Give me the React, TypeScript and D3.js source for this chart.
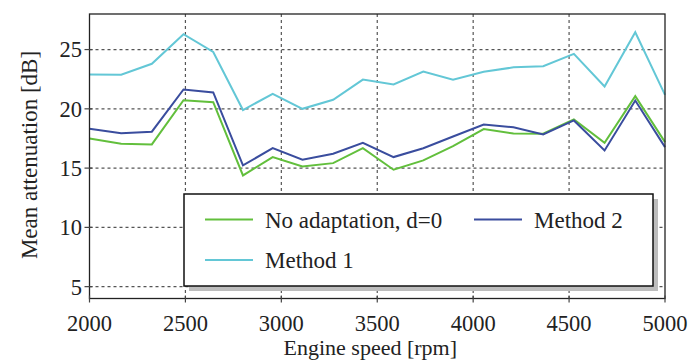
import React from 'react';
import * as d3 from 'd3';

// engine speed samples [rpm]
const speeds = [2000, 2165, 2325, 2490, 2645, 2800, 2955, 3110, 3270, 3425, 3585, 3740, 3895, 4055, 4210, 4365, 4525, 4685, 4845, 5000];

const noAdaptation = [17.5, 17.06, 17.0, 20.73, 20.56, 14.38, 15.93, 15.14, 15.42, 16.68, 14.86, 15.65, 16.85, 18.29, 17.92, 17.9, 19.1, 17.14, 21.07, 17.19];
const method1 = [22.9, 22.87, 23.8, 26.3, 24.8, 19.9, 21.27, 20.0, 20.76, 22.47, 22.05, 23.15, 22.45, 23.12, 23.5, 23.6, 24.64, 21.88, 26.46, 21.18];
const method2 = [18.32, 17.95, 18.07, 21.63, 21.38, 15.23, 16.68, 15.71, 16.21, 17.14, 15.93, 16.68, 17.67, 18.68, 18.45, 17.84, 19.02, 16.49, 20.7, 16.77];

const xTicks = [2000, 2500, 3000, 3500, 4000, 4500, 5000];
const yTicks = [5, 10, 15, 20, 25];

const series = [
  { name: 'No adaptation, d=0', values: noAdaptation, color: '#62bf3c' },
  { name: 'Method 1', values: method1, color: '#63c7d6' },
  { name: 'Method 2', values: method2, color: '#3a4d9e' },
];

const W = 691;
const H = 362;
const plot = { left: 89.5, right: 665, top: 14, bottom: 298.5 };
const font = '"Liberation Serif", "Times New Roman", serif';

export default function App() {
  const x = d3.scaleLinear().domain([2000, 5000]).range([plot.left, plot.right]);
  const y = d3.scaleLinear().domain([4, 28]).range([plot.bottom, plot.top]);

  const line = d3.line<number>()
    .x((d, i) => x(speeds[i]))
    .y(d => y(d));

  // legend layout
  const lg = { x: 184, y: 194, w: 469, h: 92 };
  const legendItems = [
    { s: series[0], lx: 205, ly: 219.5 },
    { s: series[2], lx: 474, ly: 219.5 },
    { s: series[1], lx: 205, ly: 260 },
  ];

  return (
    <svg width={W} height={H} style={{ position: 'absolute', left: 0, top: 0 }} fontFamily={font}>
      <rect width={W} height={H} fill="#fff" />

      {/* grid */}
      {xTicks.slice(1, -1).map(t => (
        <line key={'gx' + t} x1={x(t)} x2={x(t)} y1={plot.top} y2={plot.bottom}
          stroke="#555" strokeWidth={1.2} strokeDasharray="3,3" />
      ))}
      {yTicks.map(t => (
        <line key={'gy' + t} x1={plot.left} x2={plot.right} y1={y(t)} y2={y(t)}
          stroke="#555" strokeWidth={1.2} strokeDasharray="3,3" />
      ))}

      {/* data */}
      {series.map(s => (
        <path key={s.name} d={line(s.values) || ''} fill="none" stroke={s.color} strokeWidth={2} strokeLinejoin="miter" />
      ))}

      {/* frame */}
      <rect x={plot.left} y={plot.top} width={plot.right - plot.left} height={plot.bottom - plot.top}
        fill="none" stroke="#222" strokeWidth={1.3} />

      {/* ticks */}
      {xTicks.map(t => (
        <g key={'xt' + t}>
          <line x1={x(t)} x2={x(t)} y1={plot.bottom - 3} y2={plot.bottom + 4} stroke="#444" strokeWidth={1.2} />
          <text x={x(t)} y={331} textAnchor="middle" fontSize={22.5} fill="#222">{t}</text>
        </g>
      ))}
      {yTicks.map(t => (
        <g key={'yt' + t}>
          <line x1={plot.left - 5} x2={plot.left + 3} y1={y(t)} y2={y(t)} stroke="#444" strokeWidth={1.2} />
          <text x={82} y={y(t)} dy="0.35em" textAnchor="end" fontSize={22.5} fill="#222">{t}</text>
        </g>
      ))}

      {/* axis titles */}
      <text x={(plot.left + plot.right) / 2 - 7} y={355} textAnchor="middle" fontSize={22} fill="#222">Engine speed [rpm]</text>
      <text transform="translate(37,155) rotate(-90)" textAnchor="middle" fontSize={23} fill="#222">Mean attenuation [dB]</text>

      {/* legend */}
      <rect x={lg.x + 5} y={lg.y + 5} width={lg.w} height={lg.h} fill="#bdbdbd" />
      <rect x={lg.x} y={lg.y} width={lg.w} height={lg.h} fill="#fff" stroke="#111" strokeWidth={1.5} />
      {legendItems.map(it => (
        <g key={'lg' + it.s.name}>
          <line x1={it.lx} x2={it.lx + 48} y1={it.ly} y2={it.ly} stroke={it.s.color} strokeWidth={2.2} />
          <text x={it.lx + 60} y={it.ly} dy="0.35em" fontSize={23} fill="#222">{it.s.name}</text>
        </g>
      ))}
    </svg>
  );
}
